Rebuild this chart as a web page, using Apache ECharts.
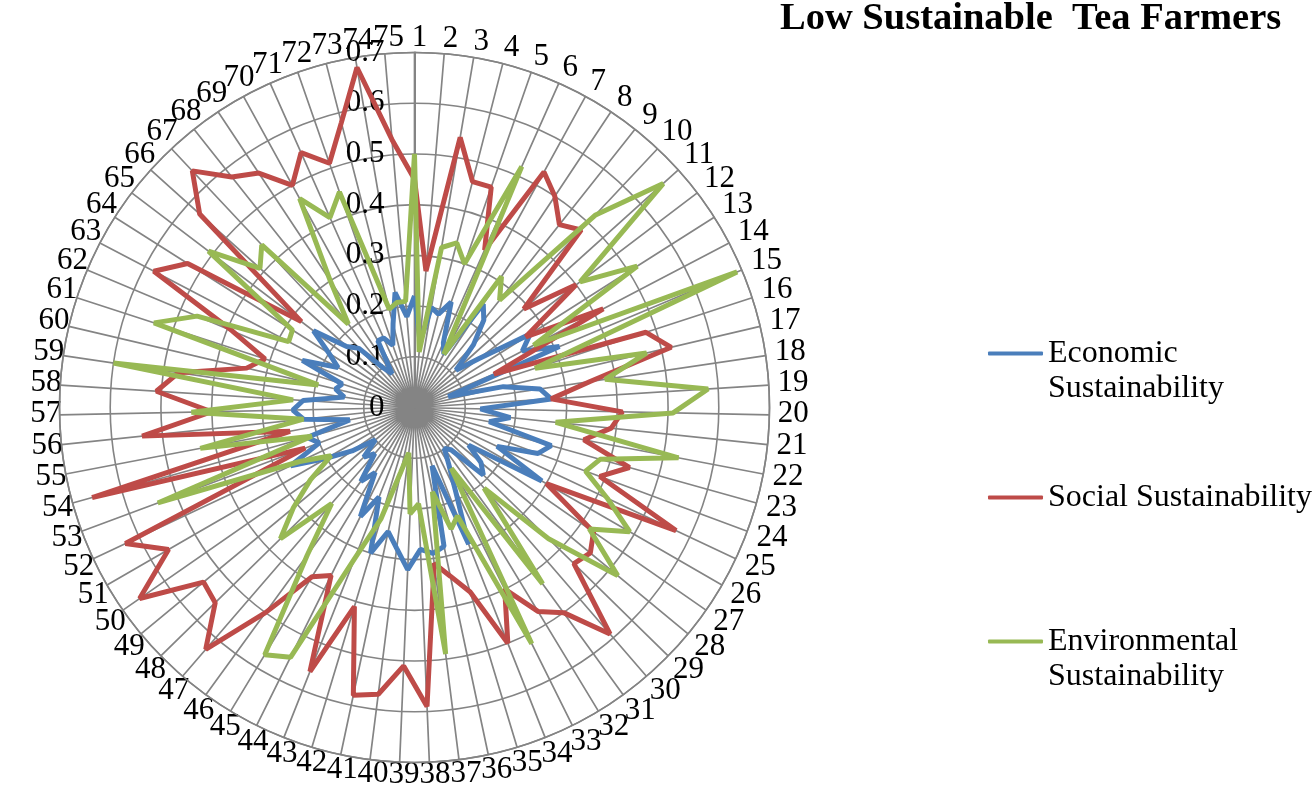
<!DOCTYPE html>
<html>
<head>
<meta charset="utf-8">
<script src="https://cdn.jsdelivr.net/npm/echarts@6/dist/echarts.min.js"></script>
<style>
html,body{margin:0;padding:0;background:#ffffff;}
#chart{width:1316px;height:793px;}
</style>
</head>
<body>
<div id="chart"></div>
<script>
const categories = ['1','2','3','4','5','6','7','8','9','10','11','12','13','14','15','16','17','18','19','20',
  '21','22','23','24','25','26','27','28','29','30','31','32','33','34','35','36','37','38','39','40',
  '41','42','43','44','45','46','47','48','49','50','51','52','53','54','55','56','57','58','59','60',
  '61','62','63','64','65','66','67','68','69','70','71','72','73','74','75'];

const economic = [0.22,0.13,0.20,0.19,0.22,0.14,0.12,0.245,0.22,0.17,
  0.11,0.16,0.27,0.24,0.31,0.07,0.18,0.25,0.27,0.13,
  0.19,0.15,0.28,0.26,0.18,0.29,0.13,0.17,0.19,0.11,
  0.10,0.13,0.18,0.29,0.12,0.28,0.29,0.28,0.32,0.28,
  0.25,0.30,0.19,0.24,0.15,0.18,0.12,0.14,0.10,0.15,
  0.20,0.27,0.20,0.22,0.13,0.22,0.24,0.22,0.14,0.16,
  0.15,0.24,0.17,0.20,0.25,0.18,0.16,0.10,0.08,0.15,
  0.15,0.13,0.17,0.23,0.18];

const social = [0.45,0.27,0.54,0.46,0.46,0.34,0.53,0.50,0.46,0.48,
  0.29,0.40,0.26,0.42,0.17,0.48,0.52,0.35,0.27,0.41,
  0.39,0.34,0.44,0.39,0.57,0.30,0.43,0.45,0.44,0.59,
  0.50,0.47,0.40,0.50,0.38,0.34,0.31,0.59,0.51,0.57,
  0.58,0.41,0.56,0.37,0.39,0.50,0.63,0.55,0.54,0.66,
  0.56,0.63,0.23,0.66,0.25,0.54,0.40,0.51,0.47,0.34,
  0.31,0.39,0.58,0.53,0.28,0.57,0.64,0.58,0.555,0.50,
  0.55,0.51,0.58,0.68,0.53];

const environmental = [0.50,0.11,0.32,0.335,0.30,0.52,0.12,0.31,0.27,0.52,
  0.66,0.41,0.52,0.265,0.69,0.25,0.47,0.38,0.58,0.51,
  0.28,0.53,0.38,0.36,0.42,0.49,0.42,0.52,0.37,0.21,
  0.43,0.14,0.52,0.23,0.25,0.17,0.49,0.19,0.21,0.09,
  0.13,0.23,0.32,0.55,0.57,0.36,0.25,0.37,0.31,0.25,
  0.19,0.25,0.54,0.21,0.43,0.22,0.44,0.24,0.60,0.195,
  0.54,0.465,0.28,0.285,0.51,0.41,0.44,0.21,0.30,0.47,
  0.41,0.45,0.20,0.21,0.21];

const seriesNames = ['Economic Sustainability','Social Sustainability','Environmental Sustainability'];
const legendLabels = ['\nEconomic\nSustainability','Social Sustainability','\nEnvironmental\nSustainability'];
const seriesColors = ['#4A7EBB','#BE4B48','#98B954'];
const radiusMin = 0, radiusMax = 0.7, radiusStep = 0.1;

const FONT = "'Liberation Serif','Times New Roman',serif";
const LABEL_SIZE = 31;
const GRID = '#848484';

function closedPairs(values){
  const pts = values.map((v,i)=>[v,i]);
  pts.push([values[0], categories.length]);
  return pts;
}

const chart = echarts.init(document.getElementById('chart'), null, {renderer:'canvas'});

const allSeries = [economic, social, environmental].map((vals, k) => ({
  name: seriesNames[k],
  type: 'line',
  coordinateSystem: 'polar',
  data: closedPairs(vals),
  symbol: 'none',
  showSymbol: false,
  smooth: false,
  lineStyle: {color: seriesColors[k], width: 5},
  itemStyle: {color: seriesColors[k]},
  animation: false
}));

function legendFor(k, top){
  return {
    data: [seriesNames[k]],
    left: 988,
    top: top,
    padding: 0,
    orient: 'vertical',
    icon: 'roundRect',
    itemWidth: 55,
    itemHeight: 4,
    selectedMode: false,
    formatter: function(){ return legendLabels[k]; },
    textStyle: {fontFamily: FONT, fontSize: 32, lineHeight: 35, color: '#000'}
  };
}

const option = {
  backgroundColor: '#ffffff',
  animation: false,
  title: {
    text: 'Low Sustainable  Tea Farmers',
    left: 780,
    top: 0,
    padding: 0,
    textStyle: {fontFamily: FONT, fontSize: 38.5, fontWeight: 'bold', color: '#000', lineHeight: 38}
  },
  legend: [legendFor(0, 301), legendFor(1, 480), legendFor(2, 589)],
  polar: {center: [414.5, 407.5], radius: 355},
  angleAxis: {
    type: 'value',
    min: 0,
    max: categories.length,
    interval: 1,
    startAngle: 90,
    clockwise: true,
    axisLine: {show: true, lineStyle: {color: GRID, width: 1.6}},
    axisTick: {show: false},
    splitLine: {show: true, lineStyle: {color: GRID, width: 1.7}},
    axisLabel: {show: false}
  },
  radiusAxis: {
    type: 'value',
    min: radiusMin,
    max: radiusMax,
    interval: radiusStep,
    axisLine: {show: true, lineStyle: {color: GRID, width: 2}},
    axisTick: {show: false},
    splitLine: {show: true, lineStyle: {color: GRID, width: 1.6}},
    axisLabel: {
      show: true,
      margin: 30,
      fontFamily: FONT,
      fontSize: 31,
      color: '#000',
      formatter: function(v){ return String(Math.round(v*10)/10); }
    }
  },
  series: allSeries
};

chart.setOption(option);

// Category labels around the rim, placed from the polar coordinate system itself
const measure = document.createElement('canvas').getContext('2d');
measure.font = LABEL_SIZE + "px 'Liberation Serif'";
const GAP = 3, GLYPH_H = 21;
const labelGraphics = categories.map((name, i) => {
  const c = chart.convertToPixel({polarIndex: 0}, [0, i]);
  const p = chart.convertToPixel({polarIndex: 0}, [radiusMax, i]);
  const dx = p[0] - c[0], dy = p[1] - c[1];
  const R = Math.sqrt(dx*dx + dy*dy);
  const ux = dx / R, uy = dy / R;
  const w = measure.measureText(name).width;
  const D = R + GAP + Math.abs(ux) * w / 2 + Math.abs(uy) * GLYPH_H / 2;
  return {
    type: 'text',
    x: c[0] + ux * D + 5,
    y: c[1] + uy * D - 1,
    silent: true,
    style: {
      text: name,
      fontFamily: FONT,
      fontSize: LABEL_SIZE,
      fill: '#000',
      align: 'center',
      verticalAlign: 'middle'
    }
  };
});
chart.setOption({graphic: labelGraphics});
</script>
</body>
</html>
